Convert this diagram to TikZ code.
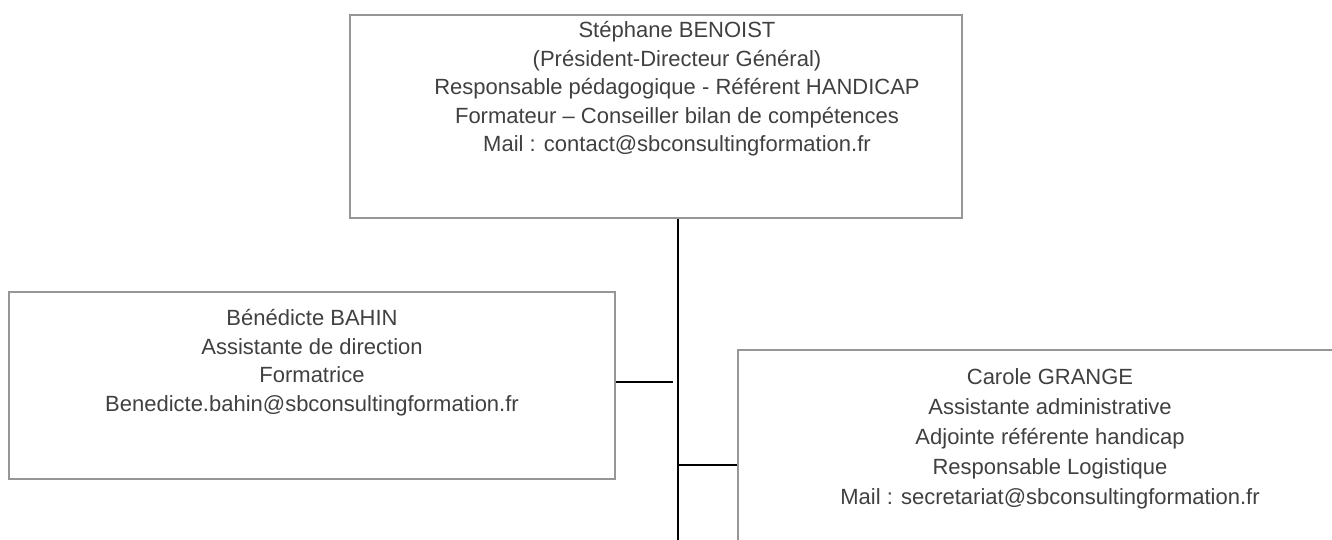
\documentclass[tikz,border=0pt]{standalone}
\usepackage{fontspec}
\setmainfont{Liberation Sans}
\usetikzlibrary{positioning}
\definecolor{sbtext}{RGB}{64,64,64}
\definecolor{sbframe}{RGB}{150,150,150}
\tikzset{
  cadre/.style={draw=sbframe, line width=1.3pt, rectangle, inner sep=0pt},
  texte/.style={text=sbtext, align=center, inner sep=0pt, anchor=north,
    font=\fontsize{22}{28.5}\selectfont},
  lien/.style={draw=black, line width=1.1pt}
}
\begin{document}
\begin{tikzpicture}[x=1pt, y=-1pt]
        % page
        \clip (0,0) rectangle (1332,540);
        \useasboundingbox (0,0) rectangle (1332,540);

        % boxes
        \node[cadre, minimum width=612pt, minimum height=203pt] (pdg) at (656,116.5) {};
        \node[cadre, minimum width=606pt, minimum height=187pt] (bahin) at (312,385.5) {};
        \node[cadre, minimum width=624pt, minimum height=230pt] (grange) at (1050,465) {};

        % texts
        \node[texte, below=7pt of pdg.north, xshift=21pt] (pdgtxt) {St\'ephane BENOIST\\(Pr\'esident-Directeur G\'en\'eral)\\Responsable p\'edagogique - R\'ef\'erent HANDICAP\\Formateur -- Conseiller bilan de comp\'etences\\Mail : contact@sbconsultingformation.fr};
        \node[texte, below=18pt of bahin.north] (bahintxt) {B\'en\'edicte BAHIN\\Assistante de direction\\Formatrice\\Benedicte.bahin@sbconsultingformation.fr};
        \node[texte, below=19pt of grange.north, font=\fontsize{22}{30}\selectfont] (grangetxt) {Carole GRANGE\\Assistante administrative\\Adjointe r\'ef\'erente handicap\\Responsable Logistique\\Mail : secretariat@sbconsultingformation.fr};

        % connectors
        \coordinate (bas) at (678,540);
        \coordinate (bahinfin) at (673,382);
        \coordinate (grangedeb) at (678,465);
        \draw[lien] (pdg.south -| bas) -- (bas);
        \draw[lien] (bahin.east |- bahinfin) -- (bahinfin);
        \draw[lien] (grangedeb) -- (grangedeb -| grange.west);
\end{tikzpicture}
\end{document}
